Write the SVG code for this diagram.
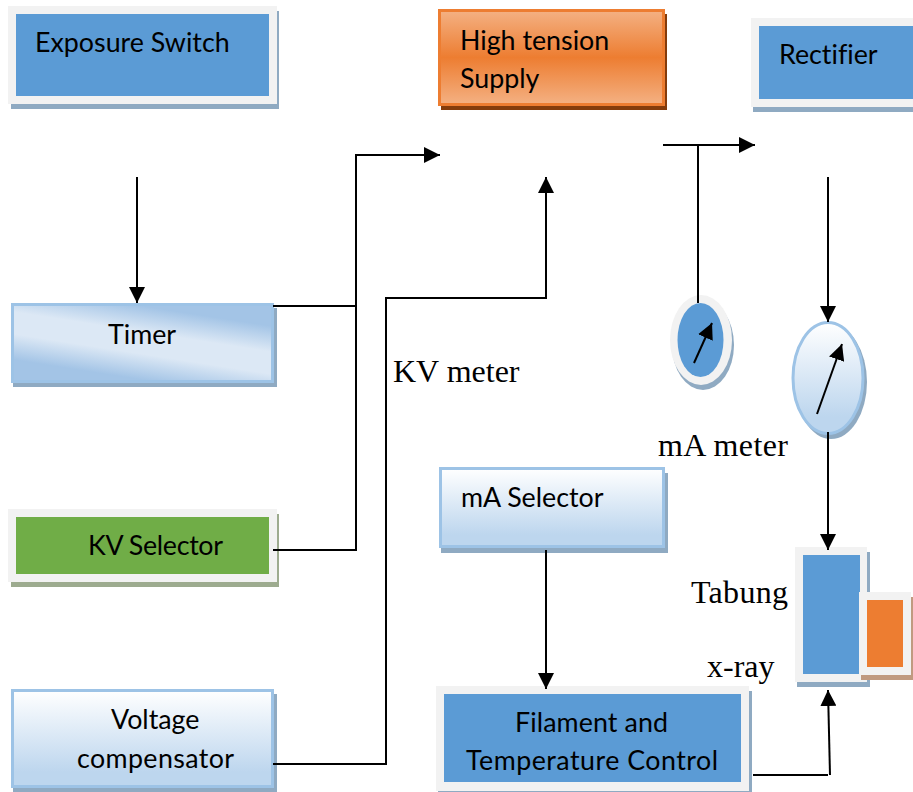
<svg xmlns="http://www.w3.org/2000/svg" width="913" height="792" viewBox="0 0 913 792">
<style>
.t{font-family:"Lato","Open Sans",sans-serif;font-size:26.800px;fill:#000;font-variant-ligatures:none}
.s{font-family:"Liberation Serif",serif;font-size:32px;fill:#000}
.c{fill:none;stroke:#000;stroke-width:2}
.o{fill:#f2f2f2}
.b{fill:#5b9bd5}
.sb{fill:#8faac2}
.lb{stroke:#9dc3e6;stroke-width:3}
</style>
<defs>
<marker id="a" markerUnits="userSpaceOnUse" markerWidth="16" markerHeight="16" refX="16" refY="8" orient="auto"><path d="M0 0L16 8L0 16Z" fill="#000"/></marker>
<linearGradient id="g1" x1="0" y1="0" x2="0" y2="1"><stop offset="0" stop-color="#fff"/><stop offset=".85" stop-color="#bdd6ee"/><stop offset="1" stop-color="#bdd6ee"/></linearGradient>
<linearGradient id="g2" gradientUnits="userSpaceOnUse" x1="136" y1="388" x2="150" y2="298"><stop offset=".1" stop-color="#a3c4e6"/><stop offset=".38" stop-color="#dce8f5"/><stop offset=".62" stop-color="#dce8f5"/><stop offset=".9" stop-color="#a3c4e6"/></linearGradient>
<linearGradient id="g3" x1="0" y1="0" x2="0" y2="1"><stop offset="0" stop-color="#f4b183"/><stop offset=".5" stop-color="#ed7d31"/><stop offset="1" stop-color="#f4b183"/></linearGradient>
</defs>
<g id="exposure-switch"><rect class="sb" x="11" y="11" width="268" height="98"/><rect class="o" x="8" y="6" width="269" height="98"/><rect class="b" x="16" y="14" width="253" height="82"/><text class="t" x="35" y="52">Exposure Switch</text></g>
<g id="timer"><rect class="sb" x="13" y="308" width="264" height="79"/><rect class="lb" x="12.500" y="304.500" width="260" height="77" fill="url(#g2)"/><text class="t" x="108" y="344">Timer</text></g>
<g id="kv-selector"><rect fill="#9dab8f" x="11" y="514" width="268" height="73"/><rect class="o" x="8" y="509" width="269" height="73"/><rect fill="#70ad47" x="16" y="517" width="253" height="57"/><text class="t" x="88" y="555" textLength="135">KV Selector</text></g>
<g id="voltage-compensator"><rect class="sb" x="13" y="694" width="264" height="98"/><rect class="lb" x="12.500" y="690.500" width="260" height="96" fill="url(#g1)"/><text class="t" x="111" y="729">Voltage</text><text class="t" x="77" y="768" textLength="157">compensator</text></g>
<g id="high-tension-supply"><rect fill="#843c0c" x="441" y="14" width="226" height="96"/><rect x="439.500" y="10.500" width="224" height="94" fill="url(#g3)" stroke="#ed7d31" stroke-width="3"/><text class="t" x="460" y="50">High tension</text><text class="t" x="460" y="88">Supply</text></g>
<g id="rectifier"><rect class="sb" x="753" y="23" width="160" height="89"/><rect class="o" x="751" y="18" width="162" height="89"/><rect class="b" x="759" y="26" width="154" height="73"/><text class="t" x="779" y="64">Rectifier</text></g>
<g id="ma-selector"><rect class="sb" x="441" y="473" width="227" height="80"/><rect class="lb" x="440.500" y="468.500" width="223" height="78" fill="url(#g1)"/><text class="t" x="461" y="507">mA Selector</text></g>
<g id="filament-control"><rect class="sb" x="438" y="691" width="314" height="103"/><rect class="o" x="436" y="686" width="313" height="105"/><rect class="b" x="444" y="694" width="297" height="88"/><text class="t" x="515" y="732" textLength="153">Filament and</text><text class="t" x="466" y="770" textLength="252">Temperature Control</text></g>
<g id="tube"><rect class="sb" x="797" y="552" width="73" height="135"/><rect class="o" x="795" y="547" width="72" height="135"/><rect class="b" x="803" y="555" width="57" height="119"/></g>
<g id="tube-anode"><rect fill="#c09a80" x="861" y="597" width="52" height="83"/><rect class="o" x="859" y="592" width="52" height="83"/><rect fill="#ed7d31" x="867" y="600" width="36" height="67"/></g>
<g id="ma-meter"><ellipse class="sb" cx="703" cy="345" rx="31" ry="45"/><ellipse class="o" cx="701" cy="340" rx="31" ry="45"/><ellipse class="b" cx="700.500" cy="340" rx="23" ry="37"/><line class="c" x1="694" y1="363" x2="712" y2="323" marker-end="url(#a)"/></g>
<g id="kv-meter"><ellipse class="sb" cx="831" cy="382" rx="36" ry="57"/><ellipse class="lb" cx="828" cy="378" rx="35" ry="55.500" fill="url(#g1)"/><line class="c" x1="817" y1="414" x2="842" y2="344" marker-end="url(#a)"/></g>
<g id="connectors">
<path class="c" d="M137 177V303" marker-end="url(#a)"/>
<path class="c" d="M273 306H356"/>
<path class="c" d="M273 550H356V155H440" marker-end="url(#a)"/>
<path class="c" d="M273 764H386V298H546V177" marker-end="url(#a)"/>
<path class="c" d="M663 145H755" marker-end="url(#a)"/>
<path class="c" d="M698 145V303"/>
<path class="c" d="M828 177V322" marker-end="url(#a)"/>
<path class="c" d="M828 432V550" marker-end="url(#a)"/>
<path class="c" d="M546 550V689" marker-end="url(#a)"/>
<path class="c" d="M753 775H828"/>
<path class="c" d="M830 775L828 690" marker-end="url(#a)"/>
</g>
<text class="s" x="393" y="382">KV meter</text>
<text class="s" x="658" y="456" textLength="130">mA meter</text>
<text class="s" x="691" y="603" textLength="97">Tabung</text>
<text class="s" x="707" y="677">x-ray</text>
</svg>
